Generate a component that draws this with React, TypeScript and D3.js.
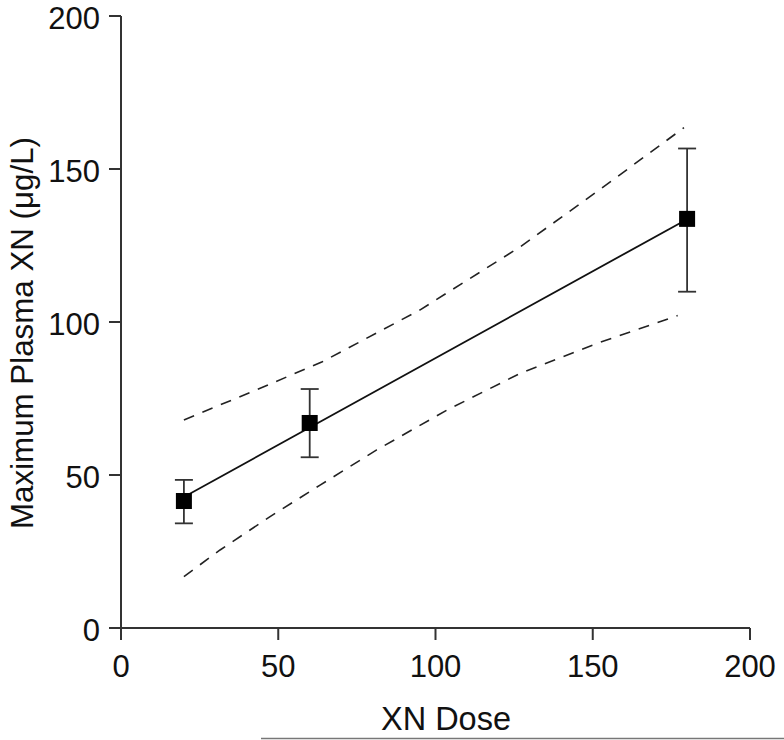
import React from "react";
import * as d3 from "d3";

const doses = [20, 60, 180];
const means = [41.5, 67.0, 133.7];
const errHigh = [48.4, 78.1, 156.7];
const errLow = [34.2, 55.8, 109.9];

const fitX = [20, 180];
const fitY = [42.8, 133.6];

const upperX = [20, 43, 64, 95, 127, 152, 179];
const upperY = [68.0, 77.8, 87.0, 103.9, 124.6, 143.1, 163.5];
const lowerX = [20, 31.5, 47.4, 63.3, 81.3, 103.6, 126.9, 151.3, 177];
const lowerY = [16.8, 25.5, 36.4, 46.7, 58.2, 71.2, 83.2, 93.0, 102.1];

const xTicks = [0, 50, 100, 150, 200];
const yTicks = [0, 50, 100, 150, 200];

const xTitle = "XN Dose";
const yTitle = "Maximum Plasma XN (μg/L)";

export default function App() {
  const W = 784, H = 740;
  const x = d3.scaleLinear().domain([0, 200]).range([121, 750]);
  const y = d3.scaleLinear().domain([0, 200]).range([628, 16]);
  const line = d3.line<[number, number]>().x(d => x(d[0])).y(d => y(d[1]));
  const font = "Liberation Sans, Arial, Helvetica, sans-serif";
  const axisColor = "#333";
  const upper = upperX.map((v, i) => [v, upperY[i]] as [number, number]);
  const lower = lowerX.map((v, i) => [v, lowerY[i]] as [number, number]);
  const fit = fitX.map((v, i) => [v, fitY[i]] as [number, number]);
  return (
    <svg width={W} height={H} style={{ position: "absolute", left: 0, top: 0, background: "#fff" }} fontFamily={font}>
      <rect width={W} height={H} fill="#fff" />
      {/* axes */}
      <line x1={x(0)} x2={x(0)} y1={y(200)} y2={y(0)} stroke={axisColor} strokeWidth={2} />
      <line x1={x(0)} x2={x(200)} y1={y(0)} y2={y(0)} stroke={axisColor} strokeWidth={2} />
      {yTicks.map(t => (
        <g key={"y" + t}>
          <line x1={x(0) - 12} x2={x(0)} y1={y(t)} y2={y(t)} stroke={axisColor} strokeWidth={2} />
          <text x={x(0) - 21} y={y(t) + 13} textAnchor="end" fontSize={31} fill="#111">{t}</text>
        </g>
      ))}
      {xTicks.map(t => (
        <g key={"x" + t}>
          <line x1={x(t)} x2={x(t)} y1={y(0)} y2={y(0) + 12} stroke={axisColor} strokeWidth={2} />
          <text transform={`translate(${x(t)},677) scale(1,1.04)`} textAnchor="middle" fontSize={31} fill="#111">{t}</text>
        </g>
      ))}
      <text x={446} y={730} textAnchor="middle" fontSize={32.5} fill="#111">{xTitle}</text>
      <text transform={`translate(33,333) rotate(-90)`} textAnchor="middle" fontSize={31.3} fill="#111">{yTitle}</text>
      {/* confidence bands */}
      <path d={line(upper) || ""} fill="none" stroke="#222" strokeWidth={1.6} strokeDasharray="11,9" />
      <path d={line(lower) || ""} fill="none" stroke="#222" strokeWidth={1.6} strokeDasharray="11,9" />
      {/* fit line */}
      <path d={line(fit) || ""} fill="none" stroke="#111" strokeWidth={1.8} />
      {/* error bars */}
      {doses.map((d, i) => (
        <g key={"e" + i} stroke="#333" strokeWidth={1.8}>
          <line x1={x(d)} x2={x(d)} y1={y(errHigh[i])} y2={y(errLow[i])} />
          <line x1={x(d) - 9} x2={x(d) + 9} y1={y(errHigh[i])} y2={y(errHigh[i])} />
          <line x1={x(d) - 9} x2={x(d) + 9} y1={y(errLow[i])} y2={y(errLow[i])} />
        </g>
      ))}
      {doses.map((d, i) => (
        <rect key={"m" + i} x={x(d) - 8} y={y(means[i]) - 8} width={16} height={16} fill="#000" />
      ))}
      <line x1={261} x2={784} y1={738.5} y2={738.5} stroke="#777" strokeWidth={1.5} />
    </svg>
  );
}
